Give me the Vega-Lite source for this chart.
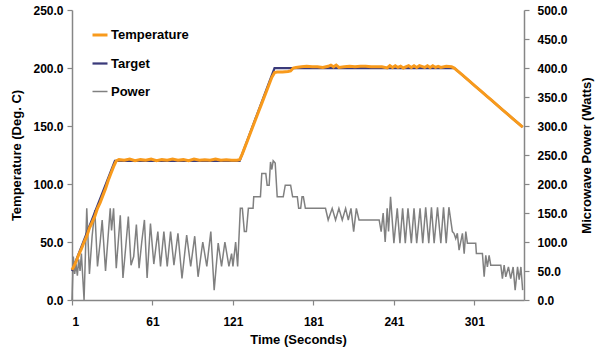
{
  "$schema": "https://vega.github.io/schema/vega-lite/v6.json",
  "width": 452,
  "height": 290,
  "autosize": {"type": "none"},
  "padding": {"left": 72, "top": 10, "right": 76, "bottom": 56},
  "background": "white",
  "config": {
    "view": {"stroke": null},
    "font": "Liberation Sans",
    "axis": {
      "labelFont": "Liberation Sans", "labelFontWeight": "bold", "labelFontSize": 12, "labelColor": "#000000",
      "titleFont": "Liberation Sans", "titleFontWeight": "bold", "titleFontSize": 13, "titleColor": "#000000",
      "domainColor": "#868686", "tickColor": "#868686", "domainWidth": 1.5, "tickWidth": 1.2, "tickSize": 5, "grid": false
    },
    "legend": {
      "labelFont": "Liberation Sans", "labelFontWeight": "bold", "labelFontSize": 13, "labelColor": "#000000"
    }
  },
  "datasets": {
    "power": [
      {"t":1,"w":0},{"t":2,"w":75},{"t":3,"w":45},{"t":4,"w":62},{"t":5,"w":42},{"t":6,"w":70},{"t":7,"w":50},{"t":8,"w":80},{"t":9,"w":40},{"t":10,"w":0},
      {"t":12,"w":158},{"t":14,"w":45},{"t":16,"w":110},{"t":18,"w":155},{"t":20,"w":58},{"t":22,"w":100},{"t":23.5,"w":138},{"t":26,"w":50},{"t":29.5,"w":158},{"t":30.5,"w":120},
      {"t":32,"w":158},{"t":34,"w":55},{"t":37,"w":146},{"t":39,"w":38},{"t":41,"w":90},{"t":43,"w":144},{"t":45,"w":60},{"t":47,"w":75},{"t":49,"w":130},{"t":51,"w":55},
      {"t":53,"w":100},{"t":55,"w":138},{"t":57,"w":38},{"t":59.5,"w":132},{"t":62,"w":62},{"t":65,"w":118},{"t":67,"w":58},{"t":69.5,"w":118},{"t":72,"w":58},{"t":74.5,"w":118},
      {"t":77,"w":60},{"t":80,"w":115},{"t":83,"w":37},{"t":86.5,"w":112},{"t":89.5,"w":58},{"t":92.5,"w":110},{"t":95,"w":40},{"t":98.5,"w":100},{"t":101.5,"w":58},{"t":104.5,"w":118},
      {"t":107,"w":17},{"t":110,"w":98},{"t":112.5,"w":58},{"t":115,"w":100},{"t":118,"w":58},{"t":120,"w":80},{"t":121,"w":58},{"t":123,"w":100},{"t":124.5,"w":58},{"t":126.5,"w":158},
      {"t":128,"w":158},{"t":129.5,"w":118},{"t":131,"w":118},{"t":132.5,"w":158},{"t":136,"w":158},{"t":136.5,"w":178},{"t":141.5,"w":178},{"t":142.5,"w":218},{"t":145.5,"w":218},{"t":146.5,"w":198},
      {"t":148,"w":198},{"t":149,"w":238},{"t":150,"w":225},{"t":151,"w":240},{"t":152.5,"w":236},{"t":154,"w":178},{"t":158.5,"w":178},{"t":160,"w":198},{"t":164,"w":198},{"t":165.5,"w":178},
      {"t":169,"w":178},{"t":170,"w":158},{"t":171.5,"w":158},{"t":172.5,"w":178},{"t":173.5,"w":178},{"t":175,"w":158},{"t":190,"w":158},{"t":192,"w":138},{"t":195,"w":158},{"t":197.5,"w":138},
      {"t":200,"w":158},{"t":202.5,"w":138},{"t":205,"w":158},{"t":207,"w":138},{"t":209,"w":158},{"t":211,"w":118},{"t":213,"w":158},{"t":215,"w":138},{"t":230,"w":138},{"t":231.5,"w":118},
      {"t":233,"w":150},{"t":234.5,"w":100},{"t":236,"w":158},{"t":237,"w":118},{"t":238.5,"w":178},{"t":241,"w":98},{"t":243.5,"w":158},{"t":245.5,"w":98},{"t":247.5,"w":158},{"t":249.5,"w":98},
      {"t":251.5,"w":158},{"t":254,"w":98},{"t":256,"w":158},{"t":258,"w":98},{"t":260.5,"w":158},{"t":262.5,"w":98},{"t":264.7,"w":160},{"t":267,"w":98},{"t":269,"w":160},{"t":271,"w":98},
      {"t":273.5,"w":160},{"t":276,"w":98},{"t":278,"w":160},{"t":280,"w":98},{"t":282,"w":160},{"t":284.6,"w":118},{"t":285.8,"w":115},{"t":287.1,"w":106},{"t":288.3,"w":115},{"t":289.6,"w":86},
      {"t":292.1,"w":115},{"t":293.4,"w":80},{"t":294.6,"w":118},{"t":295.8,"w":98},{"t":302,"w":98},{"t":302.5,"w":80},{"t":307,"w":80},{"t":308.3,"w":40},{"t":309.5,"w":77},{"t":310.7,"w":57},
      {"t":312,"w":77},{"t":313.2,"w":60},{"t":320.7,"w":60},{"t":321.9,"w":37},{"t":323.2,"w":60},{"t":324.4,"w":40},{"t":326.4,"w":57},{"t":328.1,"w":37},{"t":329.9,"w":57},{"t":331.4,"w":17},
      {"t":333.2,"w":57},{"t":334.4,"w":35},{"t":335.7,"w":57},{"t":337,"w":17}
    ],
    "target": [
      {"t":1,"deg":25},{"t":33,"deg":120},{"t":126,"deg":120},{"t":152,"deg":200},{"t":286,"deg":200},{"t":337,"deg":149}
    ],
    "temperature": [
      {"t":1,"deg":26},{"t":2,"deg":28},{"t":4,"deg":33},{"t":6,"deg":39},{"t":8,"deg":44},{"t":10,"deg":50},{"t":12,"deg":55},{"t":14,"deg":62},{"t":16,"deg":67},{"t":18,"deg":72},
      {"t":20,"deg":79},{"t":22,"deg":84},{"t":24,"deg":90},{"t":26,"deg":96},{"t":28,"deg":103},{"t":30,"deg":109},{"t":32,"deg":115},{"t":34,"deg":120},{"t":36,"deg":121},{"t":40,"deg":120.5},
      {"t":44,"deg":121.5},{"t":48,"deg":120},{"t":52,"deg":121},{"t":56,"deg":120.5},{"t":60,"deg":121.5},{"t":64,"deg":120},{"t":68,"deg":121},{"t":72,"deg":120.5},{"t":76,"deg":121.5},{"t":80,"deg":120.5},
      {"t":84,"deg":121},{"t":88,"deg":120},{"t":92,"deg":121.5},{"t":96,"deg":120.5},{"t":100,"deg":121},{"t":104,"deg":120.5},{"t":108,"deg":121.5},{"t":112,"deg":120.5},{"t":116,"deg":121},{"t":120,"deg":120.5},
      {"t":124,"deg":120.5},{"t":126,"deg":121},{"t":128,"deg":126},{"t":130,"deg":132},{"t":132,"deg":138},{"t":134,"deg":144},{"t":136,"deg":150},{"t":138,"deg":156},{"t":140,"deg":162},{"t":142,"deg":168},
      {"t":144,"deg":174},{"t":146,"deg":180},{"t":148,"deg":186},{"t":150,"deg":192},{"t":152,"deg":196},{"t":154,"deg":196.5},{"t":158,"deg":196.5},{"t":162,"deg":197},{"t":164,"deg":197.5},{"t":166,"deg":200},
      {"t":168,"deg":200.5},{"t":172,"deg":201},{"t":176,"deg":201.5},{"t":180,"deg":201},{"t":184,"deg":201},{"t":188,"deg":200.5},{"t":192,"deg":201.5},{"t":194,"deg":202.5},{"t":196,"deg":201},{"t":198,"deg":202.5},
      {"t":200,"deg":200.5},{"t":204,"deg":201},{"t":208,"deg":201.5},{"t":212,"deg":201},{"t":216,"deg":201.5},{"t":220,"deg":201.5},{"t":224,"deg":201},{"t":228,"deg":201},{"t":232,"deg":201},{"t":236,"deg":200},
      {"t":238,"deg":202},{"t":240,"deg":200.5},{"t":242,"deg":202},{"t":244,"deg":200.5},{"t":246,"deg":201.5},{"t":248,"deg":200},{"t":252,"deg":202},{"t":254,"deg":200.5},{"t":256,"deg":202},{"t":258,"deg":200.5},
      {"t":260,"deg":202},{"t":264,"deg":200.5},{"t":266,"deg":202},{"t":268,"deg":200.5},{"t":270,"deg":202},{"t":272,"deg":200.5},{"t":274,"deg":201.5},{"t":276,"deg":200.5},{"t":280,"deg":201.5},{"t":284,"deg":201},
      {"t":286,"deg":200},{"t":288,"deg":198},{"t":290,"deg":196},{"t":292,"deg":194},{"t":295,"deg":191},{"t":298,"deg":188},{"t":302,"deg":184},{"t":306,"deg":180},{"t":310,"deg":176},{"t":314,"deg":172},
      {"t":318,"deg":168},{"t":322,"deg":164},{"t":326,"deg":160},{"t":330,"deg":156},{"t":334,"deg":152},{"t":337,"deg":149}
    ]
  },
  "layer": [
    {
      "data": {"name": "power"},
      "mark": {"type": "line"},
      "encoding": {
        "x": {"field": "t", "type": "quantitative", "scale": {"domain": [1, 338], "nice": false, "zero": false},
              "axis": {"values": [1, 61, 121, 181, 241, 301], "format": "d", "title": "Time (Seconds)", "labelPadding": 11, "titlePadding": 6}},
        "y": {"field": "w", "type": "quantitative", "scale": {"domain": [0, 500], "nice": false},
              "axis": {"orient": "right", "values": [0, 50, 100, 150, 200, 250, 300, 350, 400, 450, 500], "format": ".1f", "title": "Microwave Power (Watts)", "titleAngle": 270, "titleBaseline": "top", "labelPadding": 8, "titlePadding": 13}},
        "color": {"datum": "Power", "type": "nominal",
                  "scale": {"domain": ["Temperature", "Target", "Power"], "range": ["#F89A1C", "#3A3A7A", "#808080"]},
                  "legend": {"orient": "none", "legendX": 19, "legendY": 16, "title": null, "symbolType": "stroke", "symbolSize": 225, "rowPadding": 12.5, "labelOffset": 2, "padding": 0}},
        "strokeWidth": {"datum": "Power", "type": "nominal",
                  "scale": {"domain": ["Temperature", "Target", "Power"], "range": [3, 1.5, 1.5]},
                  "legend": {"orient": "none", "legendX": 19, "legendY": 16, "title": null, "symbolType": "stroke", "symbolSize": 225, "rowPadding": 12.5, "labelOffset": 2, "padding": 0}}
      }
    },
    {
      "layer": [
        {
          "data": {"name": "target"},
          "mark": {"type": "line"},
          "encoding": {
            "x": {"field": "t", "type": "quantitative"},
            "y": {"field": "deg", "type": "quantitative", "scale": {"domain": [0, 250], "nice": false},
                  "axis": {"orient": "left", "values": [0, 50, 100, 150, 200, 250], "format": ".1f", "title": "Temperature (Deg. C)", "labelPadding": 4, "titlePadding": 9}},
            "color": {"datum": "Target", "type": "nominal"},
            "strokeWidth": {"datum": "Target", "type": "nominal"}
          }
        },
        {
          "data": {"name": "temperature"},
          "mark": {"type": "line"},
          "encoding": {
            "x": {"field": "t", "type": "quantitative"},
            "y": {"field": "deg", "type": "quantitative"},
            "color": {"datum": "Temperature", "type": "nominal"},
            "strokeWidth": {"datum": "Temperature", "type": "nominal"}
          }
        }
      ]
    }
  ],
  "resolve": {"scale": {"y": "independent"}}
}
